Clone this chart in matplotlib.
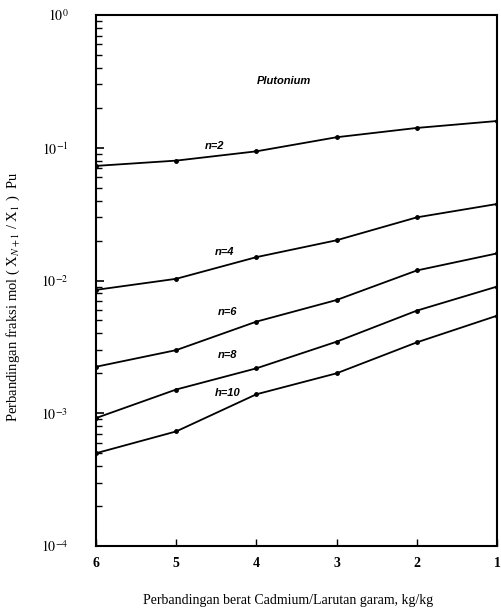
import matplotlib
matplotlib.use("Agg")
import matplotlib.pyplot as plt
from matplotlib.ticker import LogLocator, NullFormatter, FixedLocator

plt.rcParams["mathtext.fontset"] = "stix"

x_ratio = [6, 5, 4, 3, 2, 1]
n2 = [0.073, 0.080, 0.094, 0.120, 0.141, 0.159]
n4 = [0.0085, 0.0103, 0.0150, 0.0201, 0.0299, 0.0377]
n6 = [0.00224, 0.00299, 0.0049, 0.00713, 0.0119, 0.0160]
n8 = [0.00092, 0.00151, 0.00218, 0.00346, 0.00593, 0.0090]
n10 = [0.00050, 0.00073, 0.00139, 0.0020, 0.00342, 0.00543]
series = [n2, n4, n6, n8, n10]
curve_labels = ["n=2", "n=4", "n=6", "n=8", "h=10"]
label_pos = [(4.64, 0.103), (4.52, 0.0164), (4.48, 0.0058), (4.48, 0.00275), (4.52, 0.00142)]
xticks = [6, 5, 4, 3, 2, 1]
yticks = [1e-4, 1e-3, 1e-2, 1e-1, 1e0]
ytick_labels = [r"$10^{-4}$", r"$10^{-3}$", r"$10^{-2}$", r"$10^{-1}$", r"$10^{0}$"]

fig = plt.figure(figsize=(5.01, 6.12), dpi=100)
ax = fig.add_axes([0.1916, 0.1078, 0.8004, 0.8677])

for vals in series:
    ax.plot(x_ratio, vals, color="black", lw=1.3, marker="o", ms=2.5)

ax.set_yscale("log")
ax.set_xlim(6, 1)
ax.set_ylim(1e-4, 1e0)

ax.set_xticks(xticks)
ax.set_xticklabels([str(v) for v in xticks], fontsize=10, family="Liberation Serif", weight="bold")
ax.yaxis.set_major_locator(FixedLocator(yticks))
ax.set_yticklabels(ytick_labels, fontsize=10, family="Liberation Serif")
ax.yaxis.set_minor_locator(LogLocator(base=10, subs=range(2, 10), numticks=20))
ax.yaxis.set_minor_formatter(NullFormatter())
ax.tick_params(axis="y", which="major", direction="in", length=6, width=1.2, pad=20)
ax.tick_params(axis="y", which="minor", direction="in", length=4, width=1.0)
ax.tick_params(axis="x", which="major", direction="in", length=5, width=1.0, pad=8)

for s in ax.spines.values():
    s.set_linewidth(1.5)

for lab, (lx, ly) in zip(curve_labels, label_pos):
    ax.text(lx, ly, lab, fontsize=8, style="italic", weight="bold",
            family="Liberation Sans", ha="left", va="center")

ax.text(3.99, 0.318, "Plutonium", fontsize=8, style="italic", weight="bold",
        family="Liberation Sans", ha="left", va="center")

ax.set_ylabel(r"Perbandingan fraksi mol ( X$_{N+1}$ / X$_1$ )  Pu", fontsize=10.5,
              family="Liberation Serif")
ax.yaxis.set_label_coords(-0.185, 0.47)
ax.set_xlabel("Perbandingan berat Cadmium/Larutan garam, kg/kg", fontsize=10,
              family="Liberation Serif")
ax.xaxis.set_label_coords(0.48, -0.09)

fig.savefig("out.png", dpi=100)
